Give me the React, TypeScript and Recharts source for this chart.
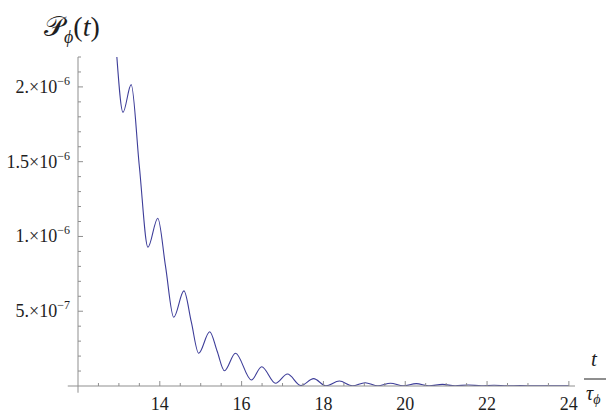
import React from 'react';
import { LineChart, Line, XAxis, YAxis, ReferenceLine } from 'recharts';

// t / tau_phi
const times = [
  12.95, 13.1, 13.3, 13.5, 13.71, 13.95, 14.14, 14.34, 14.59, 14.77, 14.95, 15.22, 15.4, 15.58,
  15.85, 16.24, 16.49, 16.83, 17.12, 17.45, 17.76, 18.06, 18.39, 18.71, 19.02, 19.33, 19.64,
  19.95, 20.27, 20.58, 20.91, 21.22, 21.54, 21.86, 22.17, 22.49, 22.81, 23.12, 23.44, 23.76, 24.0,
];

// P_phi(t), in units of 1e-6
const prob = [
  2.2, 1.83, 2.015, 1.468, 0.928, 1.122, 0.8, 0.46, 0.636, 0.428, 0.219, 0.363, 0.234, 0.102,
  0.219, 0.04, 0.129, 0.018, 0.08, 0.003, 0.049, 0.001, 0.033, 0.001, 0.022, 0.001, 0.018,
  0.001, 0.016, 0.001, 0.011, 0.001, 0.007, 0.001, 0.005, 0.001, 0.003, 0.001, 0.002, 0.001, 0.001,
];

const xTicks = [
  12.5, 13, 13.5, 14, 14.5, 15, 15.5, 16, 16.5, 17, 17.5, 18, 18.5, 19, 19.5, 20, 20.5, 21, 21.5,
  22, 22.5, 23, 23.5, 24,
];
const xLabels = [14, 16, 18, 20, 22, 24];

const yTicks = [
  0.1, 0.2, 0.3, 0.4, 0.5, 0.6, 0.7, 0.8, 0.9, 1.0, 1.1, 1.2, 1.3, 1.4, 1.5, 1.6, 1.7, 1.8, 1.9,
  2.0, 2.1, 2.2,
];
const yLabels: Record<string, [string, string]> = {
  '0.5': ['5.', '\u22127'],
  '1.0': ['1.', '\u22126'],
  '1.5': ['1.5', '\u22126'],
  '2.0': ['2.', '\u22126'],
};

const data = times.map((t, i) => ({ t, p: prob[i] }));

const AXIS = '#8f8f8f';
const INK = '#1e1e1e';
const CURVE = '#3d3d99';
const SERIF = '"Liberation Serif", "Times New Roman", serif';

const XTick = (props: any) => {
  const { x, y, payload } = props;
  const v = payload.value as number;
  const major = xLabels.includes(v);
  return (
    <g>
      <line x1={x} x2={x} y1={y} y2={y - (major ? 5 : 3)} stroke={AXIS} />
      {major && (
        <text x={x} y={y + 24} textAnchor="middle" style={{ fontFamily: SERIF }} fontSize={18} fill={INK}>
          {v}
        </text>
      )}
    </g>
  );
};

const YTick = (props: any) => {
  const { x, y, payload } = props;
  const lab = yLabels[(payload.value as number).toFixed(1)];
  return (
    <g>
      <line x1={x} x2={x + (lab ? 5 : 3)} y1={y} y2={y} stroke={AXIS} />
      {lab && (
        <text x={x - 8} y={y + 6} textAnchor="end" style={{ fontFamily: SERIF }} fontSize={18} fill={INK}>
          {lab[0]}
          {'\u00d710'}
          <tspan dy={-8} fontSize={12}>
            {lab[1]}
          </tspan>
        </text>
      )}
    </g>
  );
};

export default function App() {
  return (
    <div style={{ position: 'absolute', left: 0, top: 0, width: 612, height: 416, background: '#fff' }}>
      <LineChart width={612} height={416} data={data} margin={{ top: 57, right: 37, bottom: 0, left: 0 }}>
        <XAxis
          dataKey="t"
          type="number"
          domain={[12, 24.15]}
          ticks={xTicks}
          interval={0}
          height={30}
          tickSize={0}
          tickMargin={0}
          tickLine={false}
          axisLine={{ stroke: AXIS }}
          tick={<XTick />}
          allowDataOverflow
        />
        <YAxis
          type="number"
          domain={[0, 2.2]}
          ticks={yTicks}
          interval={0}
          width={78}
          tickSize={0}
          tickMargin={0}
          tickLine={false}
          axisLine={{ stroke: AXIS }}
          tick={<YTick />}
          allowDataOverflow
        />
        <ReferenceLine
          segment={[{ x: 11.75, y: 0 }, { x: 12, y: 0 }]}
          stroke={AXIS}
          ifOverflow="visible"
        />
        <ReferenceLine
          segment={[{ x: 12, y: -0.045 }, { x: 12, y: 0 }]}
          stroke={AXIS}
          ifOverflow="visible"
        />
        <Line
          type="monotone"
          dataKey="p"
          stroke={CURVE}
          strokeWidth={1.1}
          dot={false}
          isAnimationActive={false}
        />
      </LineChart>
      <svg
        width={612}
        height={416}
        style={{ position: 'absolute', left: 0, top: 0, pointerEvents: 'none', fontFamily: SERIF }}
      >
        <text x={44} y={36} fontSize={28} fill={INK}>
          <tspan>{'\u{1D4AB}'}</tspan>
          <tspan dy={7} fontSize={18} fontStyle="italic">
            {'\u03d5'}
          </tspan>
          <tspan dy={-7}>(</tspan>
          <tspan fontStyle="italic">t</tspan>
          <tspan>)</tspan>
        </text>
        <text x={594} y={366} textAnchor="middle" fontSize={21} fontStyle="italic" fill={INK}>
          t
        </text>
        <line x1={584} x2={606} y1={379} y2={379} stroke={INK} strokeWidth={1} />
        <text x={586} y={400} fontSize={20} fontStyle="italic" fill={INK}>
          {'\u03c4'}
          <tspan dy={4} fontSize={14}>
            {'\u03d5'}
          </tspan>
        </text>
      </svg>
    </div>
  );
}
